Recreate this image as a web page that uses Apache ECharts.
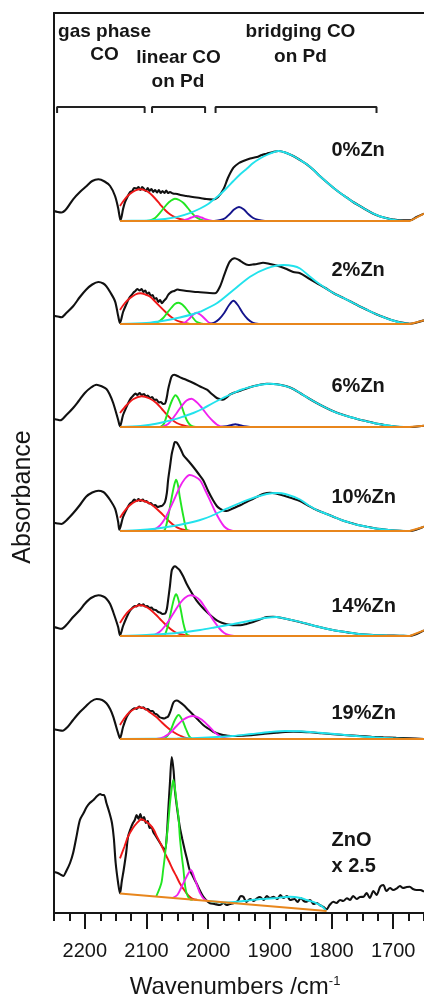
<!DOCTYPE html>
<html><head><meta charset="utf-8">
<script src="https://cdn.jsdelivr.net/npm/echarts@6/dist/echarts.min.js"></script>
<style>html,body{margin:0;padding:0;background:#fff}#chart{width:424px;height:999px}</style>
</head><body><div id="chart"></div>
<script>
// ---------- axis / labels ----------
const majorTicks = [2200, 2100, 2000, 1900, 1800, 1700];
const minorTicks = [2250, 2225, 2175, 2150, 2125, 2075, 2050, 2025, 1975, 1950, 1925, 1875, 1850, 1825, 1775, 1750, 1725, 1675, 1650];
const sampleLabels = ['0%Zn', '2%Zn', '6%Zn', '10%Zn', '14%Zn', '19%Zn', 'ZnO'];
const offsets = [692, 589, 486, 382, 277, 174, 0];
const bracketRanges = [[2245, 2103], [2091, 2005], [1988, 1727]];
const bracketLevel = [806, 800];

// ---------- 0%Zn ----------
const zn0Black = [[2250,10],[2244,9],[2238,8.5],[2230,12],[2219,21.7],[2208,29],[2197,35],[2188,40],[2178,41.7],[2168,39.5],[2159,35],[2151,25],[2146,13],[2142,0.7],[2138,12],[2135,18.7],[2131,24],[2127,28.7],[2123,30],[2120,33],[2116,32.4],[2113,34],[2110,31],[2107,34],[2104,32],[2101,30],[2098,33],[2095,30],[2092,32],[2089,29],[2086,31],[2083,28.5],[2080,31],[2077,28],[2074,30],[2071,28],[2068,30.5],[2065,28],[2062,29],[2057,27.5],[2050,27],[2045,26],[2035,25],[2025,24],[2013,23],[2003,22],[1992,21.5],[1984,24],[1975,32],[1968,43],[1959,53.3],[1950,58],[1943,60],[1932,62.5],[1921,64],[1913,66],[1905,67.3],[1895,69],[1886,70],[1875,68.5],[1862,65],[1851,61],[1840,56.7],[1829,51],[1819,45],[1808,39],[1797,33.3],[1786,28],[1775,23.3],[1765,19],[1754,15],[1743,11],[1732,7.3],[1721,4.5],[1710,2.7],[1700,1.5],[1689,0.7],[1673,0.7],[1662,4],[1650,7.3]];
const zn0Red = [[2143,15],[2135,22],[2127,27],[2118,30.5],[2110,31.7],[2102,30.5],[2094,27.5],[2086,22.5],[2078,16.7],[2070,11],[2062,6.7],[2054,3.8],[2046,2],[2035,0.6],[2020,0]];
const zn0Green = [[2100,0],[2094,0.7],[2086,3],[2078,8.3],[2067,16.7],[2060,20.5],[2054,22.3],[2047,21],[2040,18],[2033,13],[2027,8.3],[2020,4],[2013,1.7],[2005,0.3],[1995,0]];
const zn0Magenta = [[2045,0],[2035,1.5],[2027,3.5],[2019,5],[2011,3.5],[2003,1.5],[1993,0]];
const zn0Navy = [[1990,0],[1980,1],[1972,3],[1965,7],[1958,11.5],[1950,14],[1942,11.5],[1935,7],[1927,3],[1918,1],[1908,0]];
const zn0Cyan = [[2143,0],[2110,0.4],[2090,0.9],[2070,2],[2050,4.1],[2030,7.9],[2013,12.5],[2000,17],[1992,21],[1980,27],[1970,33],[1959,40],[1948,46.7],[1937,52.5],[1927,58],[1916,62.5],[1905,66],[1895,68.5],[1886,70],[1875,68.5],[1862,65],[1851,61],[1840,56.7],[1829,51],[1819,45],[1808,39],[1797,33.3],[1786,28],[1775,23.3],[1765,19],[1754,15],[1743,11],[1732,7.3],[1721,4.5],[1710,2.7],[1700,1.2],[1689,0.4],[1673,0]];
const zn0Base = [[2143,0],[1673,0],[1650,7.3]];

// ---------- 2%Zn ----------
const zn2Black = [[2250,8.3],[2244,7.5],[2238,6.7],[2230,11],[2219,17.7],[2208,27],[2198,34.3],[2188,39.5],[2178,42],[2170,40.5],[2165,37.7],[2159,32],[2151,22.7],[2146,8.3],[2143,1],[2138,12],[2132,20.7],[2128,26],[2124,29],[2121,31.5],[2118,33],[2115,35],[2111,33.5],[2108,35],[2105,32],[2102,33.5],[2099,30],[2096,31.5],[2093,28],[2090,29],[2087,25],[2084,26],[2081,22],[2078,24],[2075,20.7],[2072,23],[2068,25.7],[2065,29],[2062,31],[2059,32.3],[2055,33],[2050,34.5],[2046,34],[2035,33],[2024,32.3],[2013,31.8],[2002,31.3],[1989,30.7],[1981,37.3],[1973,50.7],[1965,62.3],[1957,65.7],[1950,64],[1946,62.3],[1935,59],[1928,59.5],[1921,60],[1911,61.3],[1900,60],[1889,58.5],[1875,55.5],[1862,52],[1851,50.7],[1838,46],[1824,41],[1810,36],[1797,31],[1784,27],[1770,22.7],[1757,18.5],[1743,14.3],[1730,10.5],[1716,7],[1703,4],[1689,1.7],[1673,0.3],[1662,1.5],[1650,3.7]];
const zn2Red = [[2143,14],[2135,21],[2127,25.7],[2118,29.5],[2110,30.7],[2102,29.5],[2094,27.3],[2086,22.5],[2078,17.3],[2070,12.5],[2062,8],[2054,4.5],[2046,2.3],[2036,0.7],[2030,0]];
const zn2Green = [[2088,0],[2080,2.5],[2073,6],[2067,10.7],[2060,16],[2054,20],[2048,21.3],[2042,19.5],[2036,15.5],[2032,12.3],[2025,6.5],[2019,2.3],[2010,0.3],[2005,0]];
const zn2Magenta = [[2046,0],[2038,1.5],[2031,5],[2025,9],[2019,11.3],[2012,9],[2005,5],[1999,1.5],[1992,0]];
const zn2Navy = [[2000,0],[1990,1.5],[1982,5],[1974,11],[1966,19],[1959,23.3],[1952,19],[1944,11],[1936,5],[1928,1.5],[1918,0]];
const zn2Cyan = [[2143,0],[2100,1],[2070,3.5],[2046,6.5],[2024,10],[2013,12.3],[1986,20.7],[1959,34],[1932,47.3],[1905,55.7],[1878,59],[1862,58],[1851,55.5],[1838,49],[1824,42],[1810,36],[1797,31],[1784,27],[1770,22.7],[1757,18.5],[1743,14.3],[1730,10.5],[1716,7],[1703,4],[1689,1.5],[1673,0]];
const zn2Base = [[2143,0],[1673,0],[1650,3.7]];

// ---------- 6%Zn ----------
const zn6Black = [[2250,8],[2244,7.3],[2240,6.7],[2230,12],[2219,19],[2210,26],[2200,34],[2190,39.5],[2181,42.3],[2172,40.5],[2165,38],[2160,33],[2154,24],[2146,7.3],[2143,0.7],[2138,12],[2132,20.7],[2128,26],[2125,29],[2121,31.7],[2118,33.5],[2115,32],[2111,34],[2108,32],[2104,33],[2101,30.5],[2098,31.5],[2094,29],[2091,30],[2087,27],[2084,27.5],[2080,24.5],[2077,25],[2073,23],[2070,23.3],[2067,30],[2065,37.3],[2062,45],[2059,50.7],[2055,52.3],[2050,51],[2043,49],[2035,47],[2024,44],[2013,40.5],[2002,37.3],[1994,33],[1986,29],[1980,27.8],[1976,27.3],[1970,29.5],[1965,32.3],[1957,34.5],[1948,36.3],[1938,38.5],[1927,40.7],[1916,42.3],[1905,43.3],[1894,43],[1884,42.3],[1873,40.7],[1862,38],[1851,34],[1838,29],[1824,24],[1810,19.5],[1797,15.7],[1784,12.7],[1770,10],[1757,7.8],[1743,5.7],[1730,3.8],[1716,2.3],[1703,1],[1689,0],[1673,0],[1650,1.3]];
const zn6Red = [[2143,14],[2132,22],[2121,28],[2108,30.7],[2095,28.5],[2084,24],[2075,18],[2067,12.3],[2059,7.5],[2051,4],[2040,1.5],[2030,0.3],[2020,0]];
const zn6Green = [[2078,0],[2072,3],[2065,15.7],[2059,26],[2053,31.7],[2048,28],[2043,20.7],[2039,13.5],[2035,7.3],[2030,2.5],[2025,0.5],[2020,0]];
const zn6Magenta = [[2075,0],[2065,3],[2058,8],[2051,14],[2043,21],[2035,26.5],[2027,28.3],[2019,25],[2012,20.5],[2008,17.3],[2000,11],[1992,5.7],[1986,2.5],[1980,0.7],[1972,0]];
const zn6Navy = [[1980,0],[1970,0.8],[1962,2],[1956,2.7],[1950,2],[1942,0.8],[1932,0]];
const zn6Cyan = [[2143,0],[2110,1],[2094,2.3],[2075,4.5],[2056,7.3],[2040,10.5],[2024,14],[2008,18.5],[1992,24],[1976,29],[1959,34],[1943,38],[1927,40.7],[1913,42.5],[1900,43.3],[1887,42.5],[1873,40.7],[1862,38],[1851,34],[1838,29],[1824,24],[1810,19.5],[1797,15.7],[1784,12.7],[1770,10],[1757,7.8],[1743,5.7],[1730,3.8],[1716,2.3],[1703,1],[1689,0.3],[1673,0]];
const zn6Base = [[2143,0],[1673,0],[1650,1.3]];

// ---------- 10%Zn ----------
const zn10Black = [[2250,8.3],[2244,7.5],[2238,7],[2230,10.5],[2219,17.7],[2208,26],[2198,34.3],[2188,38.5],[2178,40.3],[2170,39],[2165,36],[2159,31],[2151,22.3],[2146,9.3],[2144,1.3],[2138,14],[2132,22],[2127,27.3],[2123,29],[2120,31.5],[2116,30],[2113,32],[2110,30],[2106,31.5],[2103,29.5],[2100,30],[2096,27.5],[2093,28],[2089,25.5],[2086,26],[2082,24],[2078,24.7],[2074,25.5],[2070,29],[2067,38],[2065,50.7],[2062,64],[2059,77.3],[2056,85],[2054,89],[2051,88.5],[2048,85.7],[2044,81],[2040,75.7],[2032,70],[2024,64],[2016,57.5],[2008,50.7],[2000,40],[1992,30.7],[1986,25],[1981,22.3],[1975,20.5],[1970,20],[1960,22.5],[1948,25.7],[1938,29],[1927,32.3],[1918,35],[1910,37.3],[1900,38.3],[1890,37.5],[1878,35.5],[1865,33],[1851,30],[1838,25.5],[1824,21],[1810,17.5],[1797,14.3],[1784,11],[1770,8.3],[1757,6],[1743,4.3],[1730,2.8],[1716,1.7],[1703,0.8],[1689,0.3],[1673,0],[1662,1.5],[1650,4.3]];
const zn10Red = [[2143,13.3],[2135,20.5],[2127,25.7],[2118,29.5],[2110,30.7],[2102,29.5],[2094,27.3],[2086,23.5],[2078,19],[2070,14],[2062,9],[2054,5],[2046,2.3],[2036,0.7],[2028,0]];
const zn10Green = [[2074,0],[2070,1.5],[2065,14],[2059,34],[2055,46],[2052,51.3],[2049,46],[2046,34],[2040,14],[2035,1.3],[2030,0]];
const zn10Magenta = [[2095,0],[2086,2],[2078,5.7],[2070,12.5],[2062,22.3],[2054,33],[2046,44],[2038,52],[2030,56],[2022,54.5],[2013,50.7],[2005,41],[1997,30.7],[1989,20],[1981,10.7],[1974,4.5],[1967,1.3],[1960,0]];
const zn10Navy = [];
const zn10Cyan = [[2143,0],[2110,1],[2090,2],[2067,4],[2040,7],[2013,11],[1995,15],[1970,22.3],[1938,30.7],[1905,37],[1888,38],[1875,37],[1851,31.5],[1838,26],[1824,21],[1810,17.5],[1797,14.3],[1784,11],[1770,8.3],[1757,6],[1743,4.3],[1730,2.8],[1716,1.7],[1703,0.8],[1689,0.3],[1673,0]];
const zn10Base = [[2143,0],[1673,0],[1650,4.3]];

// ---------- 14%Zn ----------
const zn14Black = [[2250,9],[2244,8],[2238,7.3],[2230,11],[2219,19],[2208,26],[2200,32.3],[2190,38],[2178,40.7],[2170,39.5],[2165,37.3],[2159,32],[2154,24],[2146,9],[2143,0.7],[2138,10],[2132,19],[2127,25],[2123,28],[2119,30],[2116,29.5],[2112,32],[2109,30.5],[2105,31.7],[2102,29.5],[2099,30],[2095,28],[2092,28.5],[2089,26.5],[2085,26],[2081,24],[2078,23.5],[2074,22],[2070,22.3],[2067,27],[2065,35.7],[2062,50],[2059,65.7],[2056,69],[2054,69.7],[2050,68],[2046,65.7],[2040,59],[2035,52.3],[2027,43.5],[2019,35.7],[2010,29],[2002,24],[1994,19.5],[1986,15.7],[1978,13.2],[1970,11.7],[1960,10.8],[1948,10.7],[1938,12],[1927,14],[1916,16.5],[1905,19],[1895,19.3],[1889,19],[1878,17.8],[1867,16.3],[1853,14.3],[1840,12.3],[1827,10],[1813,8],[1800,6.2],[1786,4.7],[1772,3.4],[1759,2.3],[1745,1.5],[1732,1],[1710,0.5],[1690,0.3],[1673,0],[1662,2],[1650,5.7]];
const zn14Red = [[2143,13],[2135,20.5],[2127,26],[2118,29.5],[2110,30.7],[2102,29.5],[2094,26.5],[2086,22],[2078,17],[2070,12],[2062,7.5],[2054,4],[2046,2],[2036,0.5],[2028,0]];
const zn14Green = [[2074,0],[2070,1.5],[2065,11],[2059,28],[2055,38],[2052,41.7],[2049,38],[2045,28],[2040,12],[2035,2],[2030,0]];
const zn14Magenta = [[2095,0],[2086,1.5],[2078,4.5],[2070,10],[2062,17],[2054,25],[2046,32.5],[2038,38],[2029,40.7],[2021,39.5],[2013,35.5],[2005,28.5],[1997,21],[1989,13.5],[1981,7],[1974,3],[1967,1],[1958,0]];
const zn14Navy = [];
const zn14Cyan = [[2143,0],[2100,1],[2060,2.5],[2030,4.5],[2013,6],[1990,8.5],[1959,12],[1930,15.5],[1905,18.3],[1889,19],[1878,17.8],[1867,16.3],[1853,14.3],[1840,12.3],[1827,10],[1813,8],[1800,6.2],[1786,4.7],[1772,3.4],[1759,2.3],[1745,1.5],[1732,1],[1710,0.5],[1690,0.3],[1673,0]];
const zn14Base = [[2143,0],[1673,0],[1650,5.7]];

// ---------- 19%Zn ----------
const zn19Black = [[2250,9.7],[2244,9],[2236,8.3],[2228,12],[2219,19],[2208,27],[2199,32.3],[2190,37.5],[2181,40],[2172,39],[2165,35.7],[2159,30],[2154,22.3],[2146,5.7],[2143,0.7],[2138,12],[2132,22.3],[2127,27],[2123,29.5],[2119,30.7],[2116,30],[2112,32.5],[2108,31],[2105,31.7],[2101,29.5],[2098,30],[2094,28],[2090,28],[2087,25.5],[2083,24.5],[2079,22],[2075,21],[2071,20.5],[2068,21.5],[2065,22.3],[2061,28],[2057,35.7],[2054,38],[2051,38.5],[2046,37],[2040,34],[2032,29],[2024,24],[2016,19],[2008,14],[2000,10.5],[1992,7.3],[1984,5.5],[1976,4],[1968,3.3],[1959,3],[1943,3.4],[1927,4],[1908,5.2],[1889,6.3],[1875,7],[1862,7.3],[1848,7.1],[1835,6.7],[1816,5.7],[1797,4.7],[1775,3.8],[1754,3],[1735,2.3],[1716,1.7],[1695,1.1],[1673,0.7],[1650,0]];
const zn19Red = [[2143,14],[2135,21.5],[2127,27],[2118,30.5],[2110,31.7],[2102,30],[2094,26.5],[2084,22],[2075,16.5],[2067,12],[2059,8],[2051,5],[2046,3.5],[2036,1],[2025,0]];
const zn19Green = [[2073,0],[2066,3],[2060,10],[2054,19],[2048,24],[2042,19],[2036,10],[2031,3],[2026,0]];
const zn19Magenta = [[2084,0],[2072,2],[2062,6],[2052,12.5],[2040,19.5],[2025,23],[2012,20],[2000,13.5],[1990,7],[1980,2.5],[1970,0.5],[1962,0]];
const zn19Navy = [];
const zn19Cyan = [[2143,0],[2050,0.5],[2000,1.5],[1960,3],[1930,5],[1900,7],[1875,8],[1850,7.7],[1820,6.3],[1790,4.7],[1760,3],[1730,1.7],[1700,0.7],[1673,0]];
const zn19Base = [[2143,0],[1650,0]];

// ---------- ZnO (x 2.5) ----------
const znoBlack = [[2250,41],[2244,40],[2238,38],[2235,37],[2230,42],[2224,50],[2219,60],[2214,75],[2208,93],[2202,100],[2197,106],[2192,110],[2186,113],[2180,117],[2175,119],[2172,118],[2169,118],[2165,110],[2160,100],[2156,90],[2153,75],[2150,50],[2146,30],[2143,19.7],[2140,32],[2137,43],[2133,60],[2130,76],[2126,84],[2122,90],[2119,93],[2116,98],[2113,94],[2110,99],[2107,93],[2104,96],[2101,90],[2098,92],[2095,85],[2092,86],[2089,81],[2085,77],[2081,73],[2078,70],[2074,66],[2070,63],[2067,78],[2064.7,103],[2062,130],[2059,156],[2056,142],[2054,123],[2050,103],[2046,86],[2042,74],[2038,63],[2034,53],[2030,43],[2025,37],[2019,29.7],[2013,22],[2008,16.3],[2002,12],[1997,9.7],[1990,9],[1981,8],[1975,10],[1970,8],[1965,9],[1959,9.7],[1952,12],[1947,17],[1943,16.3],[1938,11],[1932,14],[1926,12],[1921,14.7],[1916,16],[1910,13],[1905,17],[1900,15],[1894,16.3],[1888,14],[1883,18],[1878,15],[1872,17],[1867,13],[1860,14],[1855,11],[1850,15],[1845,12],[1840,11.3],[1835,13],[1829,9],[1824,10],[1819,8],[1813,6],[1808,3.7],[1803,8],[1797,11.3],[1792,10],[1786,13],[1781,12],[1775,14.7],[1770,13],[1765,17],[1759,14],[1754,16],[1748,16.3],[1743,20],[1738,15],[1732,22],[1727,18],[1721,26.3],[1716,28],[1711,22],[1705,25],[1700,23],[1694,24.7],[1689,27],[1684,25],[1678,26],[1673,26.3],[1668,24],[1662,23],[1656,23],[1650,21.3]];
const znoRed = [[2143,54.7],[2136,66],[2130,76.3],[2122,85],[2116,89.7],[2108,93.7],[2101,91.5],[2094,88],[2088,83],[2083,76.3],[2076,68],[2070,59.7],[2063,51],[2057,43],[2051,36],[2046,29.7],[2040,24],[2035,19.7],[2030,16.3],[2025,14.2],[2018,13.3]];
const znoGreen = [[2084,16.8],[2076,29.7],[2073,43],[2070,58],[2067,76.3],[2064,95],[2062,109.7],[2059,125],[2056.6,133],[2054,125],[2051,109.7],[2048,95],[2046,76.3],[2043,58],[2040,43],[2038,30],[2035,19.7],[2030,14],[2025,13.2]];
const znoMagenta = [[2058,15],[2050,18],[2043,26.3],[2035,36.3],[2028,43],[2021,33],[2013,19.7],[2005,13],[1998,11.9]];
const znoNavy = [];
const znoCyan = [[2000,12],[1970,10.5],[1943,12],[1921,13.5],[1894,14.7],[1867,16.3],[1850,15],[1840,13],[1824,9.7],[1815,6.5],[1809,2.5]];
const znoBase = [[2143,19.5],[1808,2]];

// ---------- build ----------
const spectra = [
  [zn0Black, zn0Red, zn0Green, zn0Magenta, zn0Navy, zn0Cyan, zn0Base],
  [zn2Black, zn2Red, zn2Green, zn2Magenta, zn2Navy, zn2Cyan, zn2Base],
  [zn6Black, zn6Red, zn6Green, zn6Magenta, zn6Navy, zn6Cyan, zn6Base],
  [zn10Black, zn10Red, zn10Green, zn10Magenta, zn10Navy, zn10Cyan, zn10Base],
  [zn14Black, zn14Red, zn14Green, zn14Magenta, zn14Navy, zn14Cyan, zn14Base],
  [zn19Black, zn19Red, zn19Green, zn19Magenta, zn19Navy, zn19Cyan, zn19Base],
  [znoBlack, znoRed, znoGreen, znoMagenta, znoNavy, znoCyan, znoBase]
];
const compNames = ['spectrum', 'gas CO fit', 'linear CO fit 1', 'linear CO fit 2', 'bridging CO fit 1', 'bridging CO fit 2', 'baseline'];
const compColors = ['#111111', '#f01818', '#22e622', '#f022f0', '#14148c', '#22e2ec', '#e8861c'];
const compWidth = [2.1, 1.9, 1.9, 1.9, 1.9, 1.9, 1.9];
const FONT = '"Liberation Sans", Arial, Helvetica, sans-serif';
const INK = '#161616';

const series = [];
spectra.forEach((comps, i) => {
  comps.forEach((arr, c) => {
    if (!arr.length) return;
    series.push({
      type: 'line', name: sampleLabels[i] + ' ' + compNames[c],
      data: arr.map(p => [p[0], p[1] + offsets[i]]),
      showSymbol: false, symbol: 'none', silent: true,
      smooth: c === 6 ? false : 0.3,
      lineStyle: { color: compColors[c], width: compWidth[c] },
      z: 2 + c
    });
  });
});
bracketRanges.forEach((r) => {
  series.push({
    type: 'line', name: 'bracket', silent: true, showSymbol: false, symbol: 'none',
    data: [[r[0], bracketLevel[1]], [r[0], bracketLevel[0]], [r[1], bracketLevel[0]], [r[1], bracketLevel[1]]],
    lineStyle: { color: '#222', width: 2 }, z: 10
  });
});

function txt(x, y, text, size, weight, align) {
  return { type: 'text', x: x, y: y, silent: true, z: 100,
    style: { text: text, fontSize: size, fontWeight: weight, fontFamily: FONT, fill: INK,
      align: align, textAlign: align, verticalAlign: 'middle', textVerticalAlign: 'middle' } };
}
const labelY = [150, 270, 386, 497, 606, 713, 840];
const graphics = [
  txt(104.5, 31.5, 'gas phase', 19, 'bold', 'center'),
  txt(104.5, 55, 'CO', 19, 'bold', 'center'),
  txt(178.5, 58, 'linear CO', 19, 'bold', 'center'),
  txt(178, 81.5, 'on Pd', 19, 'bold', 'center'),
  txt(300.5, 32, 'bridging CO', 19, 'bold', 'center'),
  txt(300.5, 56.5, 'on Pd', 19, 'bold', 'center'),
  txt(331.5, 866, 'x 2.5', 20, 'bold', 'left')
];
sampleLabels.forEach((s, i) => graphics.push(txt(331.5, labelY[i], s, 20, 'bold', 'left')));
graphics.push({ type: 'text', x: 23, y: 497, rotation: Math.PI / 2, silent: true,
  style: { text: 'Absorbance', fontSize: 25, fontFamily: FONT, fill: INK,
    align: 'center', textAlign: 'center', verticalAlign: 'middle', textVerticalAlign: 'middle' } });

const chart = echarts.init(document.getElementById('chart'), null, { renderer: 'canvas' });
chart.setOption({
  animation: false,
  backgroundColor: '#fff',
  grid: { left: 54, right: 0, top: 13, bottom: 86, containLabel: false, outerBoundsMode: 'none' },
  xAxis: [
    { type: 'value', position: 'bottom', min: 1650, max: 2250, inverse: true,
      axisLine: { show: true, onZero: false, lineStyle: { color: INK, width: 2 } },
      axisTick: { show: true, customValues: majorTicks, length: 16, lineStyle: { color: INK, width: 2 } },
      axisLabel: { show: true, customValues: majorTicks, fontSize: 20, fontFamily: FONT, color: INK, margin: 28,
        formatter: (v) => String(Math.round(v)) },
      splitLine: { show: false },
      name: 'Wavenumbers /cm{sup|-1}', nameLocation: 'middle', nameGap: 62,
      nameTextStyle: { fontSize: 24, fontFamily: FONT, color: INK, padding: [0, 8, 0, 0],
        rich: { sup: { fontSize: 13, fontFamily: FONT, color: INK, verticalAlign: 'top', padding: [0, 0, 12, 0] } } } },
    { type: 'value', position: 'bottom', min: 1650, max: 2250, inverse: true,
      axisLine: { show: false },
      axisTick: { show: true, customValues: minorTicks, length: 8, lineStyle: { color: INK, width: 2 } },
      axisLabel: { show: false }, splitLine: { show: false } },
    { type: 'value', position: 'top', min: 1650, max: 2250, inverse: true,
      axisLine: { show: true, onZero: false, lineStyle: { color: INK, width: 2 } },
      axisTick: { show: false }, axisLabel: { show: false }, splitLine: { show: false } }
  ],
  yAxis: { type: 'value', min: 0, max: 900,
    axisLine: { show: true, onZero: false, lineStyle: { color: INK, width: 2 } },
    axisTick: { show: false }, axisLabel: { show: false }, splitLine: { show: false } },
  graphic: graphics,
  series: series
});
</script></body></html>
